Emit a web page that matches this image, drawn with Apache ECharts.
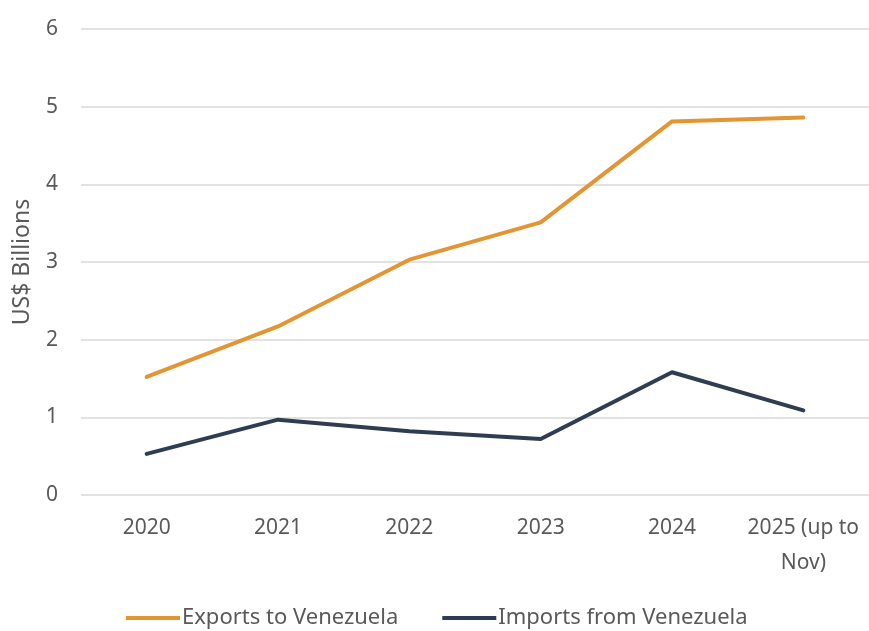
<!DOCTYPE html>
<html>
<head>
<meta charset="utf-8">
<script src="https://cdn.jsdelivr.net/npm/echarts@6/dist/echarts.min.js"></script>
<style>
    html, body { margin: 0; padding: 0; background: #fff; }
    #tradeChart { width: 869px; height: 631px; }
</style>
</head>
<body>
<div id="tradeChart"></div>
<script>
    // data
    var years = ['2020', '2021', '2022', '2023', '2024', '2025 (up to\nNov)'];
    var exportsToVenezuela = [1.52, 2.17, 3.03, 3.51, 4.81, 4.86];
    var importsFromVenezuela = [0.53, 0.97, 0.82, 0.72, 1.58, 1.09];

    var textColor = '#595959';
    var fontName = '"Noto Sans", "Open Sans", sans-serif';

    var chart = echarts.init(document.getElementById('tradeChart'));
    chart.setOption({
        animation: false,
        textStyle: { fontFamily: fontName },
        grid: { left: 81, right: 0, top: 29, bottom: 136 },
        legend: {
            left: 126,
            bottom: 2,
            padding: 0,
            itemWidth: 54,
            itemHeight: 4,
            itemGap: 44,
            icon: 'rect',
            textStyle: { color: textColor, fontSize: 22, fontFamily: fontName, padding: [0, 0, 0, -3] },
            data: ['Exports to Venezuela', 'Imports from Venezuela']
        },
        xAxis: {
            type: 'category',
            data: years,
            boundaryGap: true,
            axisLine: { show: false },
            axisTick: { show: false },
            axisLabel: {
                color: textColor,
                fontSize: 21,
                margin: 16,
                lineHeight: 35,
                interval: 0
            }
        },
        yAxis: {
            type: 'value',
            min: 0,
            max: 6,
            interval: 1,
            name: 'US$ Billions',
            nameLocation: 'middle',
            nameGap: 47,
            nameTextStyle: { color: textColor, fontSize: 23 },
            axisLine: { show: false },
            axisTick: { show: false },
            axisLabel: { color: textColor, fontSize: 21, margin: 23 },
            splitLine: { lineStyle: { color: '#d9d9d9', width: 1.5 } }
        },
        series: [{
            name: 'Exports to Venezuela',
            type: 'line',
            data: exportsToVenezuela,
            symbol: 'none',
            itemStyle: { color: '#E39533' },
            lineStyle: { color: '#E39533', width: 4, cap: 'round' }
        }, {
            name: 'Imports from Venezuela',
            type: 'line',
            data: importsFromVenezuela,
            symbol: 'none',
            itemStyle: { color: '#2E3D50' },
            lineStyle: { color: '#2E3D50', width: 4, cap: 'round' }
        }]
    });
</script>
</body>
</html>
